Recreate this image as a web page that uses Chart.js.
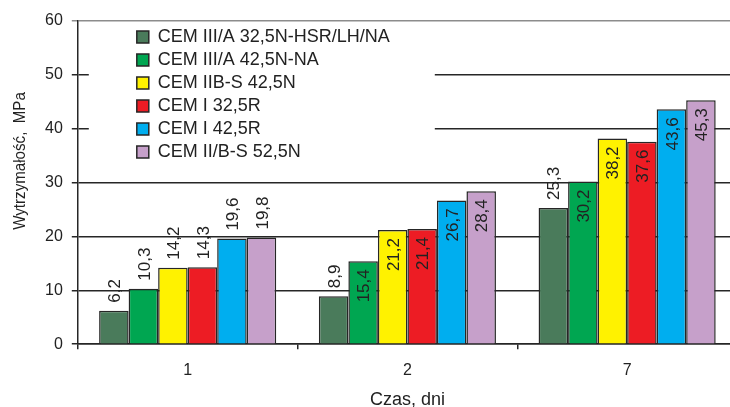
<!DOCTYPE html>
<html lang="pl">
<head>
<meta charset="utf-8">
<script src="https://cdn.jsdelivr.net/npm/chart.js@4/dist/chart.umd.min.js"></script>
<style>
  html, body { margin: 0; padding: 0; background: #fff; overflow: hidden; }
  #wrap { position: relative; width: 737px; height: 407px; }
</style>
</head>
<body>
<div id="wrap"><canvas id="c"></canvas></div>
<script>
// Compressive strength after 1, 2 and 7 days for six cement types
const days = ['1', '2', '7'];
const cementTypes = [
  'CEM III/A 32,5N-HSR/LH/NA',
  'CEM III/A 42,5N-NA',
  'CEM IIB-S 42,5N',
  'CEM I 32,5R',
  'CEM I 42,5R',
  'CEM II/B-S 52,5N'
];
const cemIIIA325 = [6.2, 8.9, 25.3];
const cemIIIA425 = [10.3, 15.4, 30.2];
const cemIIBS425 = [14.2, 21.2, 38.2];
const cemI325 = [14.3, 21.4, 37.6];
const cemI425 = [19.6, 26.7, 43.6];
const cemIIBS525 = [19.8, 28.4, 45.3];
const strengthTicks = [0, 10, 20, 30, 40, 50, 60];

const seriesValues = [cemIIIA325, cemIIIA425, cemIIBS425, cemI325, cemI425, cemIIBS525];
const seriesColors = ['#4a7b5b', '#00a651', '#fff200', '#ed1c24', '#00aeef', '#c6a0ca'];

const FONT = "'Liberation Sans', Arial, Helvetica, sans-serif";
const INK = '#222';
const LINE = '#262626';

Chart.defaults.font.family = FONT;
Chart.defaults.color = INK;

// Values written vertically over / inside the top of each bar
const valueLabels = {
  id: 'valueLabels',
  afterDatasetsDraw(chart) {
    const { ctx } = chart;
    const size = 17;
    ctx.save();
    ctx.font = size + 'px ' + FONT;
    ctx.fillStyle = INK;
    ctx.textBaseline = 'alphabetic';
    chart.data.datasets.forEach((ds, i) => {
      chart.getDatasetMeta(i).data.forEach((bar, j) => {
        const text = ds.data[j].toFixed(1).replace('.', ',');
        const outside = i === 0 || j === 0;
        ctx.save();
        ctx.translate(bar.x + size * 0.36, outside ? bar.y - 8 : bar.y + 8);
        ctx.rotate(-Math.PI / 2);
        ctx.textAlign = outside ? 'left' : 'right';
        ctx.fillText(text, 0, 0);
        ctx.restore();
      });
    });
    ctx.restore();
  }
};

// Legend panel in the upper-left corner of the plot, on a white background
const legendPanel = {
  id: 'legendPanel',
  afterLayout(chart) {
    const lg = chart.legend;
    const a = chart.chartArea;
    lg.left = a.left + 54;
    lg.top = a.top + 2;
    lg.right = lg.left + lg.width;
    lg.bottom = lg.top + lg.height;
  },
  beforeDatasetsDraw(chart) {
    const a = chart.chartArea;
    const ctx = chart.ctx;
    ctx.save();
    ctx.fillStyle = '#fff';
    ctx.fillRect(a.left + 11, a.top + 1.5, 346, 147);
    ctx.restore();
    chart.legend.draw();
  }
};

// Vertical axis title
const yAxisTitle = {
  id: 'yAxisTitle',
  afterDraw(chart) {
    const { ctx, chartArea } = chart;
    ctx.save();
    ctx.translate(20, chartArea.top + 140);
    ctx.rotate(-Math.PI / 2);
    ctx.scale(0.89, 1);
    ctx.font = '17px ' + FONT;
    ctx.fillStyle = INK;
    ctx.textAlign = 'center';
    ctx.textBaseline = 'middle';
    ctx.fillText('Wytrzymałość,  MPa', 0, 0);
    ctx.restore();
  }
};

new Chart(document.getElementById('c'), {
  type: 'bar',
  data: {
    labels: days,
    datasets: cementTypes.map((name, i) => ({
      label: name,
      data: seriesValues[i],
      backgroundColor: seriesColors[i],
      borderColor: LINE,
      borderWidth: 1.5,
      categoryPercentage: 0.806,
      barPercentage: 1
    }))
  },
  options: {
    responsive: true,
    maintainAspectRatio: false,
    animation: false,
    events: [],
    layout: { padding: { left: 36, top: 21, right: 0, bottom: -4 } },
    plugins: {
      tooltip: { enabled: false },
      legend: {
        position: 'chartArea',
        align: 'start',
        labels: {
          boxWidth: 12,
          boxHeight: 12,
          padding: 5,
          color: INK,
          font: { size: 18 }
        }
      }
    },
    scales: {
      x: {
        offset: true,
        grid: {
          offset: true,
          drawOnChartArea: false,
          drawTicks: true,
          tickLength: 5,
          color: LINE,
          lineWidth: 1.5
        },
        border: { color: LINE, width: 1.5 },
        ticks: { padding: 12, font: { size: 16 }, color: INK },
        title: {
          display: true,
          text: 'Czas, dni',
          font: { size: 18 },
          color: INK,
          padding: { top: -3, bottom: 0 }
        }
      },
      y: {
        min: strengthTicks[0],
        max: strengthTicks[strengthTicks.length - 1],
        afterBuildTicks(scale) {
          scale.ticks = strengthTicks.map(v => ({ value: v }));
        },
        grid: {
          color: c => (c.tick && c.tick.value === 60 ? '#8c8c8c' : LINE),
          lineWidth: 1.5,
          tickLength: 6
        },
        border: { color: LINE, width: 1.5 },
        ticks: { padding: 9, font: { size: 16 }, color: INK }
      }
    }
  },
  plugins: [legendPanel, valueLabels, yAxisTitle]
});
</script>
</body>
</html>
